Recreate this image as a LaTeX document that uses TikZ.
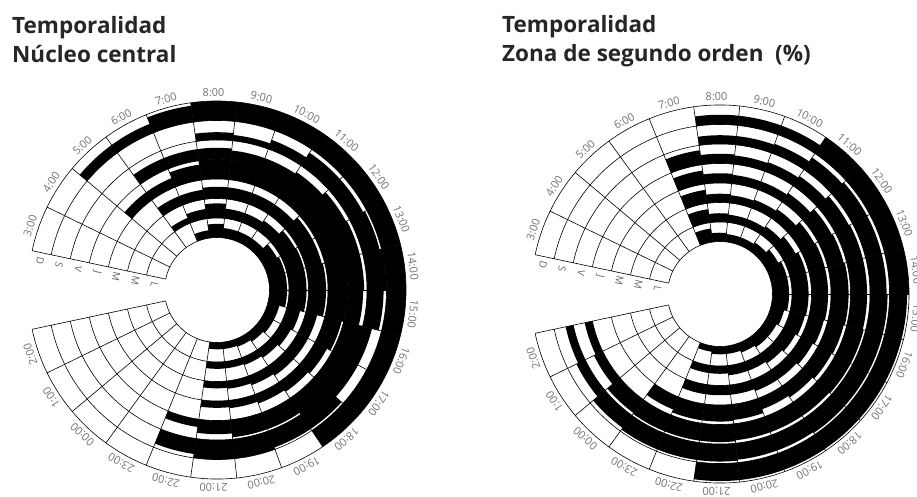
\documentclass[tikz,border=0pt]{standalone}
\usepackage{fontspec}
\setsansfont{Open Sans}
\usepackage{tikz}
\usetikzlibrary{positioning}

\def\coreData{%
{0,0,0,0,.4,.7,.5,.5,.5,.8,.9,.9,.9,.6,.6,.5,.4,.35,.35,0,0,0,0,0},
{0,0,0,.3,.5,.75,.5,.5,.6,.85,.9,.9,.9,.7,.6,.5,.4,.35,.35,0,0,0,0,0},
{0,0,0,.5,.5,.6,.6,.6,.6,.85,.85,.9,.9,.6,.6,.6,.5,.4,.35,0,0,0,0,0},
{0,0,.5,.5,.8,1,1,1,1,1,1,1,1,.9,.7,.6,.5,.4,.35,0,0,0,0,0},
{0,0,0,.6,.6,.6,.5,.5,.6,.8,.85,.85,.8,1,1,1,.9,.9,.7,.4,0,0,0,0},
{0,0,0,0,0,.4,.3,.5,.8,.8,.9,1,.85,.5,.5,.9,.9,1,1,.8,0,0,0,0},
{0,0,.5,.5,.85,1,1,1,1,1,1,1,1,1,1,1,0,0,0,0,0,0,0,0}}
\def\zoneData{%
{0,0,0,0,.7,.45,.4,.4,.5,.7,.85,.85,.85,.7,.6,.6,.5,.4,.4,.3,0,0,0,0},
{0,0,0,0,.7,.45,.4,.4,.5,.7,.85,.85,.85,.8,.7,.6,.5,.5,.4,.4,0,0,0,0},
{0,0,0,0,.7,.45,.4,.45,.55,.8,.85,.85,.85,.8,.7,.6,.6,.5,.5,.5,0,0,0,0},
{0,0,0,0,.7,.5,.45,.45,.55,.8,.85,.9,.9,.85,.8,.7,.6,.8,.85,.85,.7,0,0,0},
{0,0,0,0,.75,.5,.45,.5,.6,.8,.85,.85,.85,.9,.9,.85,.85,.85,.9,.9,.9,.85,.5,.4},
{0,0,0,0,0,.45,.45,.5,.75,.85,.85,.85,.9,.9,.9,.9,.85,.85,.9,.9,.9,.8,.5,.4},
{0,0,0,0,0,.5,.5,.5,1,1,1,1,.9,.9,.9,.9,.9,.9,.9,0,0,0,0,0}}

\newcommand{\clockchart}[2]{%
  \foreach \row [count=\rg from 0] in #1 {
    \pgfmathsetmacro\rin{52.5+19.5*\rg}
    \foreach \val [count=\sk from 0] in \row {
      \ifdim\val pt>0pt
        \pgfmathsetmacro\rout{\rin+19.5*\val}
        \pgfmathsetmacro\aa{168-14*\sk}
        \pgfmathsetmacro\ab{\aa-14}
        \fill[ink] (\aa:\rin) arc[start angle=\aa,end angle=\ab,radius=\rin]
          -- (\ab:\rout) arc[start angle=\ab,end angle=\aa,radius=\rout] -- cycle;
      \fi
    }
  }
  \foreach \rg in {0,...,7}
    \draw[grid] (168:{52.5+19.5*\rg}) arc[start angle=168,end angle=-168,radius={52.5+19.5*\rg}];
  \foreach \sk in {0,...,24}
    \draw[grid] ({168-14*\sk}:52.5) -- ({168-14*\sk}:189);
  \foreach \lab [count=\sk from 0] in {3:00,4:00,5:00,6:00,7:00,8:00,9:00,10:00,11:00,12:00,13:00,14:00,15:00,16:00,17:00,18:00,19:00,20:00,21:00,22:00,23:00,00:00,1:00,2:00}
    \node[hour,rotate={71-14*\sk}] (h#2\sk) at ({161-14*\sk}:197.5) {\lab};
  \foreach \lab [count=\rg from 0] in {L,M,M,J,V,S,D}
    \path (168:{62.25+19.5*\rg}) ++(-102:8) node[day,rotate=-102] (d#2\rg) {\lab};
}

\begin{document}
\begin{tikzpicture}[x=1pt,y=1pt]
\tikzstyle{grid}=[draw=black,line width=0.6pt]
\tikzstyle{ink}=[fill=black]
\tikzstyle{hour}=[font=\sffamily\fontsize{11}{11}\selectfont,text=black!55,inner sep=0pt]
\tikzstyle{day}=[font=\sffamily\fontsize{10}{10}\selectfont,text=black!60,inner sep=0pt]
\tikzstyle{title}=[font=\sffamily\bfseries\fontsize{22.5}{27}\selectfont,text=black!85,inner sep=0pt,anchor=base west]
\useasboundingbox (0,0) rectangle (917,496);
\node[title] (ta1) at (12,462) {Temporalidad};
\node[title] (ta2) at ([yshift=-29pt]ta1.base west) {Núcleo central};
\node[title] (tb1) at (502,463) {Temporalidad};
\node[title] (tb2) at ([yshift=-29pt]tb1.base west) {Zona de segundo orden~~(\%)};
\begin{scope}[shift={(217,206)}]
  \clockchart{\coreData}{a}
\end{scope}
\begin{scope}[shift={(720,202)}]
  \clockchart{\zoneData}{b}
\end{scope}
\end{tikzpicture}
\end{document}
